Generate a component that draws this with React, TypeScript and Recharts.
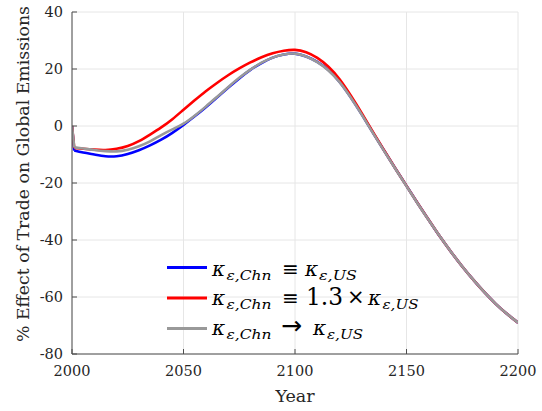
import React from 'react';
import { LineChart, Line, XAxis, YAxis, CartesianGrid } from 'recharts';

const years = [2000, 2001, 2005, 2010, 2015, 2020, 2025, 2030, 2035, 2040, 2045, 2050, 2055, 2060, 2065, 2070, 2075, 2080, 2085, 2090, 2095, 2100, 2105, 2110, 2115, 2120, 2125, 2130, 2135, 2140, 2145, 2150, 2155, 2160, 2165, 2170, 2175, 2180, 2185, 2190, 2195, 2200];

const blueVals = [0, -8.6, -9.3, -10.0, -10.6, -10.6, -9.8, -8.5, -6.8, -4.8, -2.4, 0.4, 3.4, 6.6, 10.0, 13.4, 16.7, 19.7, 22.1, 24.0, 25.1, 25.4, 24.4, 22.5, 19.6, 15.5, 10.1, 4.0, -2.4, -8.7, -14.9, -21.0, -27.1, -33.0, -38.8, -44.2, -49.3, -54.0, -58.4, -62.4, -65.9, -69.0];
const redVals = [0, -7.7, -8.0, -8.3, -8.4, -8.0, -7.0, -5.3, -3.0, -0.5, 2.4, 5.7, 9.0, 12.2, 15.1, 17.8, 20.2, 22.3, 24.1, 25.5, 26.4, 26.7, 25.9, 23.9, 20.8, 16.4, 10.7, 4.4, -2.2, -8.6, -14.9, -21.0, -27.1, -33.0, -38.8, -44.2, -49.3, -54.0, -58.4, -62.4, -65.9, -69.0];
const grayVals = [0, -7.5, -7.9, -8.4, -8.8, -8.9, -8.3, -7.1, -5.4, -3.2, -1.2, 0.8, 3.6, 6.8, 10.2, 13.6, 16.9, 19.8, 22.2, 24.0, 25.1, 25.4, 24.4, 22.4, 19.5, 15.4, 10.0, 3.9, -2.5, -8.8, -15.0, -21.1, -27.2, -33.1, -38.8, -44.2, -49.3, -54.0, -58.4, -62.4, -65.9, -69.0];

const xTicks = [2000, 2050, 2100, 2150, 2200];
const yTicks = [-80, -60, -40, -20, 0, 20, 40];

const seriesColors = { blue: '#0000ff', red: '#ff0000', gray: '#999999' };

// initial jump (first two years) drawn straight, the rest as a smooth spline
const data = years.map((year, i) => ({
  year,
  blueJump: i < 2 ? blueVals[i] : undefined,
  redJump: i < 2 ? redVals[i] : undefined,
  grayJump: i < 2 ? grayVals[i] : undefined,
  blue: i >= 1 ? blueVals[i] : undefined,
  red: i >= 1 ? redVals[i] : undefined,
  gray: i >= 1 ? grayVals[i] : undefined,
}));

const FONT = 'DejaVu Serif';
const SYM = 'DejaVu Sans';
const AXIS = '#4d4d4d';
const TEXT = '#262626';

function Kappa({ x, y, subX, subLen, sub }: { x: number; y: number; subX: number; subLen: number; sub: string }) {
  return (
    <>
      <text x={x} y={y} fontFamily={FONT} fontStyle="italic" fontSize={20} fill="#000">κ</text>
      <text x={subX} y={y + 4} fontFamily={FONT} fontStyle="italic" fontSize={13.5} fill="#000" textLength={subLen} lengthAdjust="spacingAndGlyphs">{sub}</text>
    </>
  );
}

function LegendRow({ y, base, color, rel }: { y: number; base: number; color: string; rel: 'eq' | 'eq13' | 'to' }) {
  return (
    <g>
      <line x1={167} x2={207} y1={y} y2={y} stroke={color} strokeWidth={2.8} />
      <Kappa x={212} y={base} subX={226.5} subLen={45} sub="ε,Chn" />
      {rel === 'to' ? (
        <>
          <text x={281} y={base - 1} fontFamily={SYM} fontSize={25} fill="#000">→</text>
          <Kappa x={313} y={base} subX={327} subLen={36} sub="ε,US" />
        </>
      ) : rel === 'eq' ? (
        <>
          <text x={282} y={base} fontFamily={SYM} fontSize={20} fill="#000">≡</text>
          <Kappa x={305} y={base} subX={319} subLen={38} sub="ε,US" />
        </>
      ) : (
        <>
          <text x={282} y={base} fontFamily={SYM} fontSize={20} fill="#000">≡</text>
          <text x={306} y={base} fontFamily={FONT} fontSize={25} fill="#000" textLength={37} lengthAdjust="spacingAndGlyphs">1.3</text>
          <text x={347} y={base - 1} fontFamily={SYM} fontSize={21} fill="#000">×</text>
          <Kappa x={368} y={base} subX={382.5} subLen={36} sub="ε,US" />
        </>
      )}
    </g>
  );
}

export default function App() {
  return (
    <div style={{ position: 'absolute', left: 0, top: 0, width: 542, height: 411, background: '#fff' }}>
      <LineChart width={542} height={411} data={data} margin={{ top: 12, right: 24, bottom: 0, left: 0 }}>
        <CartesianGrid stroke="#e6e6e6" strokeWidth={1} />
        <XAxis
          dataKey="year"
          type="number"
          domain={[2000, 2200]}
          ticks={xTicks}
          height={57}
          stroke={AXIS}
          tickSize={-5}
          tickMargin={17}
          tick={{ fill: TEXT, fontSize: 14.5, fontFamily: FONT }}
          allowDataOverflow
        />
        <YAxis
          type="number"
          domain={[-80, 40]}
          ticks={yTicks}
          width={72}
          stroke={AXIS}
          tickSize={-5}
          tickMargin={14}
          tick={{ fill: TEXT, fontSize: 14.5, fontFamily: FONT }}
          allowDataOverflow
        />
        <Line type="linear" dataKey="blueJump" stroke={seriesColors.blue} strokeWidth={2.6} dot={false} isAnimationActive={false} />
        <Line type="natural" dataKey="blue" stroke={seriesColors.blue} strokeWidth={2.6} dot={false} isAnimationActive={false} />
        <Line type="linear" dataKey="redJump" stroke={seriesColors.red} strokeWidth={2.6} dot={false} isAnimationActive={false} />
        <Line type="natural" dataKey="red" stroke={seriesColors.red} strokeWidth={2.6} dot={false} isAnimationActive={false} />
        <Line type="linear" dataKey="grayJump" stroke={seriesColors.gray} strokeWidth={2.6} dot={false} isAnimationActive={false} />
        <Line type="natural" dataKey="gray" stroke={seriesColors.gray} strokeWidth={2.6} dot={false} isAnimationActive={false} />
      </LineChart>
      <svg width={542} height={411} style={{ position: 'absolute', left: 0, top: 0, pointerEvents: 'none' }}>
        <text
          transform="rotate(-90, 29, 174)"
          x={29}
          y={174}
          textAnchor="middle"
          fontFamily={FONT}
          fontSize={17.5}
          textLength={336}
          lengthAdjust="spacingAndGlyphs"
          fill={TEXT}
        >
          % Effect of Trade on Global Emissions
        </text>
        <text x={295} y={402} textAnchor="middle" fontFamily={FONT} fontSize={17.5} fill={TEXT}>
          Year
        </text>
        <LegendRow y={267.5} base={276} color={seriesColors.blue} rel="eq" />
        <LegendRow y={298} base={305} color={seriesColors.red} rel="eq13" />
        <LegendRow y={328.5} base={335} color={seriesColors.gray} rel="to" />
      </svg>
    </div>
  );
}
